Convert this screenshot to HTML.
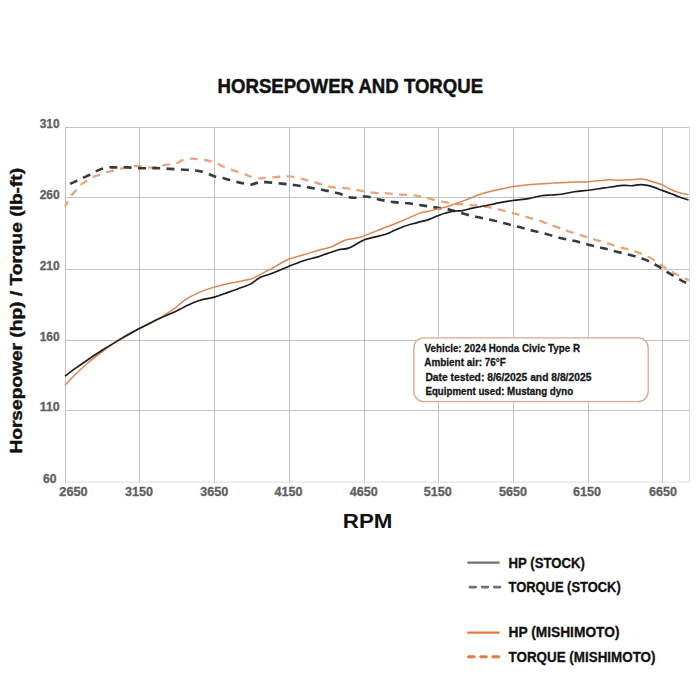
<!DOCTYPE html>
<html><head><meta charset="utf-8"><style>
html,body{margin:0;padding:0;background:#fff;width:700px;height:700px;overflow:hidden}
svg{display:block}
text{font-family:"Liberation Sans",sans-serif;font-weight:bold}
.tk{font-size:12.8px;fill:#606060;stroke:#606060;stroke-width:0.3px}
.inf{font-size:10px;fill:#151515;stroke:#151515;stroke-width:0.28px}
.ttl{font-size:20.6px;fill:#111;stroke:#111;stroke-width:0.5px}
.rpm{font-size:20.5px;fill:#111}
.ylab{font-size:17px;fill:#111;stroke:#111;stroke-width:0.4px}
.leg{font-size:13.8px;fill:#111;stroke:#111;stroke-width:0.3px}
</style></head><body>
<svg width="700" height="700" viewBox="0 0 700 700">
<rect width="700" height="700" fill="#fff"/>
<path d="M65 127.5 H689.5 M65 197.5 H689.5 M65 269.5 H689.5 M65 340.5 H689.5 M65 410.5 H689.5 M65.5 127 V483.5 M139.5 127 V483.5 M214.5 127 V483.5 M289.5 127 V483.5 M364.5 127 V483.5 M438.5 127 V483.5 M513.5 127 V483.5 M588.5 127 V483.5 M662.5 127 V483.5" stroke="#c2c2c2" stroke-width="1" fill="none"/>
<path d="M65 482 H689.5 M689.5 127 V482" stroke="#dedede" stroke-width="1" fill="none"/>
<text x="49.7" y="128.2" text-anchor="middle" class="tk" textLength="20.0" lengthAdjust="spacingAndGlyphs">310</text>
<text x="49.7" y="198.5" text-anchor="middle" class="tk" textLength="20.0" lengthAdjust="spacingAndGlyphs">260</text>
<text x="49.7" y="270.1" text-anchor="middle" class="tk" textLength="20.0" lengthAdjust="spacingAndGlyphs">210</text>
<text x="49.7" y="341.1" text-anchor="middle" class="tk" textLength="20.0" lengthAdjust="spacingAndGlyphs">160</text>
<text x="49.7" y="411.4" text-anchor="middle" class="tk" textLength="20.0" lengthAdjust="spacingAndGlyphs">110</text>
<text x="49.7" y="482.8" text-anchor="middle" class="tk" textLength="13.5" lengthAdjust="spacingAndGlyphs">60</text>
<text x="59.3" y="496.4" class="tk" textLength="28.4" lengthAdjust="spacingAndGlyphs">2650</text>
<text x="138.9" y="496.4" text-anchor="middle" class="tk" textLength="28" lengthAdjust="spacingAndGlyphs">3150</text>
<text x="214.3" y="496.4" text-anchor="middle" class="tk" textLength="28" lengthAdjust="spacingAndGlyphs">3650</text>
<text x="288.6" y="496.4" text-anchor="middle" class="tk" textLength="28" lengthAdjust="spacingAndGlyphs">4150</text>
<text x="363.8" y="496.4" text-anchor="middle" class="tk" textLength="28" lengthAdjust="spacingAndGlyphs">4650</text>
<text x="437.7" y="496.4" text-anchor="middle" class="tk" textLength="28" lengthAdjust="spacingAndGlyphs">5150</text>
<text x="513.0" y="496.4" text-anchor="middle" class="tk" textLength="28" lengthAdjust="spacingAndGlyphs">5650</text>
<text x="587.1" y="496.4" text-anchor="middle" class="tk" textLength="28" lengthAdjust="spacingAndGlyphs">6150</text>
<text x="662.9" y="496.4" text-anchor="middle" class="tk" textLength="28" lengthAdjust="spacingAndGlyphs">6650</text>
<path d="M65.0 206.4 C66.1 204.6 69.6 198.3 71.4 195.7 C73.2 193.1 74.0 192.6 75.7 190.7 C77.4 188.8 79.5 186.0 81.4 184.3 C83.3 182.6 84.9 182.0 87.1 180.7 C89.2 179.4 92.1 177.4 94.3 176.4 C96.5 175.4 97.9 175.4 100.0 174.7 C102.1 174.0 105.2 172.7 107.1 172.1 C108.9 171.5 108.1 171.8 111.1 171.1 C114.1 170.4 120.6 168.5 124.9 167.7 C129.2 166.8 132.3 166.0 136.9 166.0 C141.5 166.0 147.5 167.9 152.3 167.7 C157.2 167.5 162.0 165.6 166.0 164.9 C170.0 164.2 173.7 164.1 176.4 163.3 C179.1 162.6 179.8 161.2 182.1 160.4 C184.4 159.6 187.6 158.8 190.0 158.6 C192.4 158.4 194.0 158.8 196.4 159.0 C198.8 159.2 201.9 159.6 204.3 160.0 C206.7 160.4 208.4 160.8 210.7 161.4 C213.0 162.1 215.8 163.0 217.9 163.9 C220.1 164.8 221.3 165.8 223.6 166.7 C225.8 167.6 229.0 168.7 231.4 169.6 C233.8 170.5 235.5 171.1 237.9 171.9 C240.3 172.8 243.6 173.9 245.7 174.7 C247.8 175.5 248.5 176.1 250.7 176.7 C252.8 177.3 256.8 177.8 258.6 178.1 C260.4 178.4 258.5 178.5 261.4 178.3 C264.2 178.1 271.0 177.4 275.7 177.1 C280.4 176.8 284.6 176.0 289.3 176.4 C294.0 176.8 299.0 178.2 303.6 179.3 C308.2 180.4 312.6 181.6 317.1 182.9 C321.7 184.2 326.2 186.1 330.9 187.0 C335.6 187.9 340.4 187.5 345.1 188.1 C349.8 188.7 354.3 189.6 358.9 190.4 C363.5 191.2 367.9 192.2 372.6 192.7 C377.4 193.2 382.6 193.0 387.4 193.3 C392.2 193.6 396.8 194.3 401.4 194.7 C406.0 195.0 410.4 194.8 415.0 195.4 C419.6 196.1 424.5 197.5 429.3 198.6 C434.1 199.7 438.7 201.0 443.6 201.9 C448.5 202.8 454.2 203.5 458.6 204.0 C463.0 204.5 465.5 204.6 470.0 205.0 C474.5 205.4 480.8 205.9 485.7 206.7 C490.6 207.5 494.6 208.5 499.3 209.6 C504.0 210.7 509.0 212.1 513.6 213.3 C518.2 214.6 522.5 215.8 527.1 217.1 C531.7 218.4 536.8 219.8 541.4 221.4 C546.0 223.0 550.6 224.8 555.0 226.4 C559.4 228.0 563.5 229.6 567.9 231.1 C572.3 232.6 576.9 234.0 581.4 235.4 C585.9 236.8 590.5 238.3 595.0 239.7 C599.5 241.1 604.1 242.2 608.6 243.6 C613.1 245.0 617.5 246.6 622.1 247.9 C626.7 249.2 631.4 250.1 636.0 251.7 C640.6 253.3 645.4 255.1 649.7 257.4 C654.0 259.7 657.7 262.8 661.7 265.4 C665.7 268.0 669.6 270.6 673.7 272.9 C677.8 275.2 683.8 277.8 686.3 279.1 C688.8 280.4 688.5 280.3 689.0 280.5" stroke="#e9a57c" stroke-width="2.3" fill="none" stroke-dasharray="8 6.3" stroke-dashoffset="2"/>
<path d="M70.0 183.9 C71.2 183.4 74.9 181.7 77.1 180.7 C79.2 179.7 80.8 178.9 82.9 177.9 C85.1 176.9 87.9 175.8 90.0 174.7 C92.1 173.6 93.5 172.4 95.7 171.4 C97.9 170.4 100.5 169.3 102.9 168.6 C105.3 167.9 108.2 167.6 110.0 167.4 C111.8 167.2 110.6 167.4 113.4 167.4 C116.2 167.4 122.3 167.2 127.1 167.4 C131.9 167.6 137.2 168.2 142.0 168.3 C146.8 168.4 151.0 168.0 155.7 168.1 C160.4 168.2 165.2 168.6 170.0 168.9 C174.8 169.2 180.1 169.4 184.3 169.7 C188.5 169.9 192.2 170.1 195.0 170.4 C197.8 170.7 199.0 170.8 201.4 171.4 C203.8 172.1 207.0 173.5 209.3 174.3 C211.6 175.1 212.7 175.8 215.0 176.4 C217.3 177.0 220.4 177.5 222.9 178.1 C225.4 178.7 227.6 179.4 230.0 180.0 C232.4 180.6 234.9 181.3 237.1 181.9 C239.2 182.5 240.6 182.8 242.9 183.3 C245.2 183.8 248.3 184.8 250.7 184.7 C253.1 184.6 254.6 183.3 257.1 182.9 C259.6 182.5 261.6 182.0 265.7 182.1 C269.8 182.2 276.4 183.1 281.4 183.6 C286.4 184.1 290.9 184.6 295.7 185.3 C300.5 186.0 305.3 186.8 310.0 187.6 C314.7 188.4 319.3 189.2 324.0 190.2 C328.7 191.1 333.6 192.1 338.3 193.3 C343.0 194.5 347.4 197.1 352.0 197.6 C356.6 198.1 361.1 196.2 365.7 196.5 C370.3 196.8 374.7 198.7 379.4 199.6 C384.1 200.5 388.9 201.5 393.7 202.1 C398.4 202.7 403.2 202.8 407.9 203.3 C412.6 203.9 417.4 204.7 422.1 205.4 C426.9 206.1 431.6 206.8 436.4 207.6 C441.2 208.4 446.3 209.0 450.7 210.0 C455.1 211.0 458.5 212.4 462.9 213.6 C467.3 214.8 472.4 216.0 477.1 217.1 C481.9 218.2 486.6 218.9 491.4 220.0 C496.2 221.1 501.1 222.4 505.7 223.6 C510.3 224.8 514.8 225.9 519.3 227.1 C523.8 228.3 528.3 229.5 532.9 230.7 C537.5 231.9 542.4 233.0 547.1 234.3 C551.9 235.6 556.8 237.2 561.4 238.3 C566.0 239.4 570.5 240.0 575.0 241.1 C579.5 242.2 584.1 243.6 588.6 244.7 C593.1 245.8 597.6 246.8 602.1 247.9 C606.6 249.0 611.0 250.2 615.7 251.4 C620.4 252.6 625.6 253.8 630.3 255.1 C635.0 256.4 639.6 257.4 644.0 259.1 C648.4 260.8 652.5 263.1 656.6 265.4 C660.7 267.7 664.5 270.4 668.6 272.9 C672.7 275.4 677.7 278.4 681.1 280.3 C684.5 282.2 687.7 283.4 689.0 284.0" stroke="#3a3a3a" stroke-width="2.6" fill="none" stroke-dasharray="8 6.3"/>
<path d="M65.0 385.2 C66.5 383.6 70.4 379.3 74.3 375.5 C78.2 371.7 83.8 366.4 88.6 362.3 C93.4 358.2 98.2 354.7 102.9 351.1 C107.7 347.6 112.3 344.2 117.1 341.0 C121.8 337.8 126.6 334.7 131.4 332.1 C136.2 329.6 140.9 328.1 145.7 325.7 C150.5 323.3 155.2 320.8 160.0 317.9 C164.8 315.0 170.0 311.7 174.3 308.6 C178.6 305.5 181.4 302.1 185.7 299.3 C190.0 296.6 195.2 294.1 200.0 292.1 C204.8 290.1 209.5 288.5 214.3 287.1 C219.1 285.7 223.8 284.7 228.6 283.6 C233.4 282.5 239.1 281.5 242.9 280.7 C246.7 279.9 248.6 279.9 251.4 278.9 C254.2 277.9 256.2 276.6 260.0 274.6 C263.8 272.6 269.5 269.7 274.3 267.1 C279.1 264.6 283.8 261.3 288.6 259.3 C293.4 257.3 298.1 256.4 302.9 255.0 C307.6 253.6 312.4 252.1 317.1 250.7 C321.9 249.3 326.6 248.5 331.4 246.7 C336.2 244.9 340.9 241.6 345.7 240.0 C350.5 238.4 354.1 239.0 360.0 237.2 C365.9 235.4 374.2 231.8 381.4 229.0 C388.5 226.2 396.5 223.2 402.9 220.5 C409.3 217.8 415.7 214.6 420.0 213.1 C424.3 211.6 425.8 212.0 428.6 211.3 C431.5 210.6 434.2 209.7 437.1 209.0 C440.0 208.3 442.8 207.8 445.7 207.0 C448.6 206.2 451.4 205.1 454.3 204.1 C457.2 203.1 460.0 202.2 462.8 201.1 C465.6 200.0 468.5 198.8 471.4 197.7 C474.3 196.6 476.4 195.5 480.0 194.3 C483.6 193.1 487.3 192.0 492.9 190.7 C498.5 189.4 507.7 187.6 513.6 186.6 C519.6 185.6 522.5 185.2 528.6 184.7 C534.7 184.1 545.7 183.6 550.0 183.3 C554.3 183.0 550.0 183.1 554.3 182.9 C558.6 182.7 570.0 182.3 575.7 182.1 C581.4 181.9 582.9 182.1 588.6 181.7 C594.3 181.3 605.2 179.9 610.0 179.7 C614.8 179.5 613.5 180.3 617.1 180.3 C620.7 180.3 627.5 179.9 631.4 179.7 C635.3 179.5 638.3 178.9 640.6 178.9 C642.9 178.9 642.8 178.8 645.1 179.4 C647.4 180.0 651.3 181.4 654.3 182.3 C657.3 183.2 660.0 183.9 662.9 185.1 C665.8 186.3 668.6 188.4 671.4 189.7 C674.1 190.9 676.5 191.7 679.4 192.6 C682.3 193.5 687.1 194.5 688.6 194.9" stroke="#d98653" stroke-width="1.5" fill="none"/>
<path d="M65.0 376.1 C66.5 375.0 70.4 372.0 74.3 369.2 C78.2 366.4 83.8 362.4 88.6 359.2 C93.4 356.0 98.2 352.8 102.9 349.8 C107.7 346.8 112.3 343.9 117.1 341.1 C121.8 338.3 126.6 335.5 131.4 332.9 C136.2 330.3 140.9 327.7 145.7 325.3 C150.5 322.9 155.2 320.5 160.0 318.3 C164.8 316.1 170.2 314.0 174.3 312.1 C178.4 310.2 180.2 308.8 184.3 306.9 C188.4 305.0 193.6 302.3 198.6 300.7 C203.6 299.1 209.3 298.5 214.3 297.1 C219.3 295.7 223.8 293.8 228.6 292.1 C233.4 290.4 239.1 288.5 242.9 287.1 C246.7 285.7 248.6 285.2 251.4 283.6 C254.2 282.0 256.7 279.2 260.0 277.5 C263.3 275.8 266.6 275.5 271.4 273.6 C276.2 271.8 283.4 268.5 288.6 266.4 C293.9 264.3 298.1 262.6 302.9 261.0 C307.6 259.4 313.1 258.3 317.1 257.1 C321.1 255.9 323.5 254.8 327.1 253.6 C330.7 252.4 335.0 250.6 338.6 249.7 C342.2 248.8 345.0 249.4 348.6 248.1 C352.2 246.8 357.1 243.5 360.0 242.0 C362.9 240.5 363.3 240.1 365.7 239.3 C368.1 238.5 371.0 237.9 374.3 237.1 C377.6 236.3 381.2 235.9 385.7 234.3 C390.2 232.7 396.2 229.4 401.4 227.4 C406.6 225.4 412.6 223.9 417.1 222.6 C421.6 221.3 425.3 220.7 428.6 219.6 C431.9 218.5 434.2 217.2 437.1 216.1 C440.0 215.0 442.8 213.8 445.7 213.0 C448.6 212.2 451.4 211.4 454.3 211.0 C457.2 210.6 460.0 211.0 462.8 210.6 C465.6 210.2 468.5 209.1 471.4 208.4 C474.3 207.8 477.6 207.1 480.0 206.7 C482.4 206.2 482.4 206.4 485.7 205.7 C489.0 205.0 495.4 203.5 500.0 202.6 C504.6 201.7 508.8 201.1 513.6 200.4 C518.4 199.7 524.0 199.4 528.6 198.6 C533.2 197.8 537.6 196.3 541.4 195.7 C545.2 195.1 548.1 195.2 551.4 195.0 C554.7 194.8 557.6 194.9 561.4 194.3 C565.2 193.8 569.8 192.4 574.3 191.7 C578.8 191.0 583.6 190.9 588.6 190.3 C593.6 189.7 598.6 188.7 604.3 187.9 C610.0 187.1 618.4 185.8 622.9 185.4 C627.4 185.0 628.4 185.8 631.4 185.7 C634.4 185.6 637.9 184.6 640.6 184.6 C643.3 184.6 645.1 184.9 647.4 185.4 C649.7 185.9 651.7 186.5 654.3 187.4 C656.9 188.3 660.0 189.6 662.9 190.6 C665.8 191.6 668.6 192.6 671.4 193.7 C674.1 194.8 676.5 196.0 679.4 197.1 C682.3 198.2 687.1 199.5 688.6 200.0" stroke="#1c1c1c" stroke-width="1.65" fill="none"/>
<rect x="413.8" y="337.8" width="234.4" height="63.8" rx="10" ry="10" fill="#fff" stroke="#d9a98c" stroke-width="1.3"/>
<text x="424.6" y="352.1" class="inf" textLength="155.4" lengthAdjust="spacingAndGlyphs">Vehicle: 2024 Honda Civic Type R</text>
<text x="424.3" y="366.4" class="inf" textLength="81.6" lengthAdjust="spacingAndGlyphs">Ambient air: 76°F</text>
<text x="425.4" y="380.5" class="inf" textLength="166.0" lengthAdjust="spacingAndGlyphs">Date tested: 8/6/2025 and 8/8/2025</text>
<text x="425.4" y="394.7" class="inf" textLength="147.7" lengthAdjust="spacingAndGlyphs">Equipment used: Mustang dyno</text>
<text x="217.6" y="92.6" class="ttl" textLength="265.5" lengthAdjust="spacingAndGlyphs">HORSEPOWER AND TORQUE</text>
<text x="342.8" y="528.3" class="rpm" textLength="49.6" lengthAdjust="spacingAndGlyphs">RPM</text>
<text transform="translate(22.3 453.6) rotate(-90)" x="0" y="0" class="ylab" textLength="285.7" lengthAdjust="spacingAndGlyphs">Horsepower (hp) / Torque (lb-ft)</text>
<path d="M467.4 562.6 H499.6" stroke="#707070" stroke-width="2.4"/>
<path d="M470 587.1 H501" stroke="#707070" stroke-width="2.8" stroke-dasharray="5.6 6.6" stroke-linecap="round"/>
<path d="M467.2 632.6 H499.6" stroke="#e07b40" stroke-width="2.4"/>
<path d="M468.5 656.7 H500" stroke="#e07b40" stroke-width="3" stroke-dasharray="5.6 6.6" stroke-linecap="round"/>
<text x="508.5" y="568.2" class="leg" textLength="76.5" lengthAdjust="spacingAndGlyphs">HP (STOCK)</text>
<text x="508.5" y="591.8" class="leg" textLength="112.2" lengthAdjust="spacingAndGlyphs">TORQUE (STOCK)</text>
<text x="508.5" y="637.0" class="leg" textLength="111.0" lengthAdjust="spacingAndGlyphs">HP (MISHIMOTO)</text>
<text x="508.5" y="661.8" class="leg" textLength="147.0" lengthAdjust="spacingAndGlyphs">TORQUE (MISHIMOTO)</text>
</svg>
</body></html>
